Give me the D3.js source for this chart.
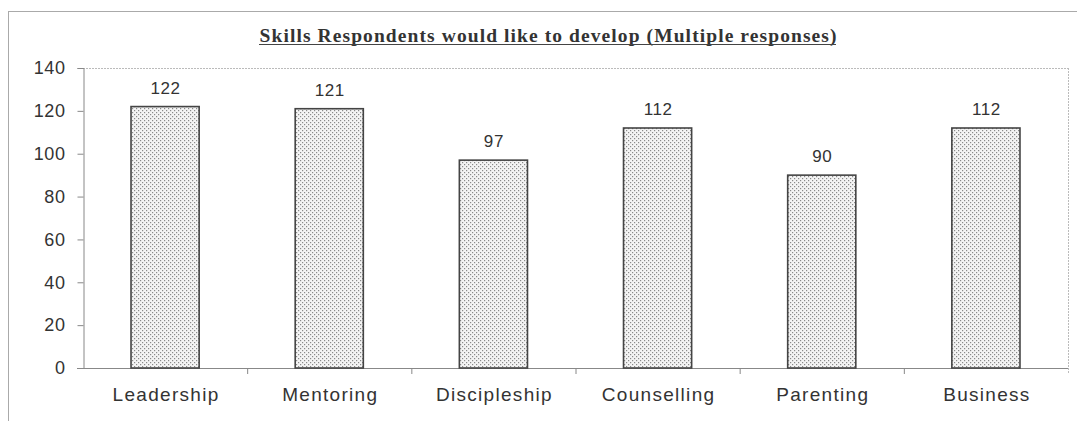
<!DOCTYPE html>
<html>
<head>
<meta charset="utf-8">
<script src="https://cdn.jsdelivr.net/npm/d3@7"></script>
<style>
  html, body { margin: 0; padding: 0; background: #fff; }
  svg { display: block; }
</style>
</head>
<body>
<svg id="chart" width="1077" height="421"></svg>
<script>
// Skills respondents would like to develop (multiple responses)
const categories = ["Leadership", "Mentoring", "Discipleship", "Counselling", "Parenting", "Business"];
const counts = [122, 121, 97, 112, 90, 112];
const yTicks = [0, 20, 40, 60, 80, 100, 120, 140];
const titleText = "Skills Respondents would like to develop (Multiple responses)";

const W = 1077, H = 421;
const plot = { left: 83, right: 1068, top: 68, bottom: 368 };
const sans = "'Liberation Sans', Arial, sans-serif";

const svg = d3.select("#chart");

// Dotted fill for the bars
const defs = svg.append("defs");
const pat = defs.append("pattern")
  .attr("id", "dots")
  .attr("patternUnits", "userSpaceOnUse")
  .attr("width", 4).attr("height", 4);
pat.append("rect").attr("width", 4).attr("height", 4).attr("fill", "#f4f4f4");
pat.append("rect").attr("x", 0).attr("y", 0).attr("width", 1.2).attr("height", 1.2).attr("fill", "#8a8a8a");
pat.append("rect").attr("x", 2).attr("y", 2).attr("width", 1.2).attr("height", 1.2).attr("fill", "#8a8a8a");

// Outer chart frame (extends past the bottom/right of the view)
svg.append("rect")
  .attr("x", 8.5).attr("y", 11.5)
  .attr("width", W + 10).attr("height", H + 10)
  .attr("fill", "none").attr("stroke", "#aaa").attr("stroke-width", 1);

// Title, underlined
svg.append("text")
  .attr("x", 548).attr("y", 42)
  .attr("text-anchor", "middle")
  .attr("font-family", "'Liberation Serif', 'Times New Roman', serif")
  .attr("font-weight", "bold")
  .attr("font-size", 19.5)
  .attr("fill", "#333")
  .attr("textLength", 577)
  .attr("lengthAdjust", "spacing")
  .text(titleText);
svg.append("line")
  .attr("x1", 259).attr("x2", 836)
  .attr("y1", 44.5).attr("y2", 44.5)
  .attr("stroke", "#444").attr("stroke-width", 1.2);

const x = d3.scaleBand()
  .domain(categories)
  .range([plot.left, plot.right])
  .paddingInner(0.585)
  .paddingOuter(0.2925);

const y = d3.scaleLinear()
  .domain([0, 140])
  .range([plot.bottom, plot.top]);

// Plot area frame (top and right, light dotted)
svg.append("line")
  .attr("x1", plot.left).attr("x2", plot.right)
  .attr("y1", plot.top + 0.5).attr("y2", plot.top + 0.5)
  .attr("stroke", "#bbb").attr("stroke-dasharray", "2,1");
svg.append("line")
  .attr("x1", plot.right + 0.5).attr("x2", plot.right + 0.5)
  .attr("y1", plot.top).attr("y2", plot.bottom + 5)
  .attr("stroke", "#bbb").attr("stroke-dasharray", "2,1");

// Y axis
const yAxis = svg.append("g")
  .attr("transform", `translate(${plot.left + 0.5},0)`)
  .call(d3.axisLeft(y).tickValues(yTicks).tickSize(6).tickPadding(12));
yAxis.select(".domain").attr("stroke", "#888");
yAxis.selectAll(".tick line").attr("stroke", "#888");
yAxis.selectAll("text")
  .attr("font-family", sans)
  .attr("font-size", 18)
  .attr("letter-spacing", 0.6)
  .attr("fill", "#333");

// X axis: baseline with ticks at category boundaries
const xAxisG = svg.append("g");
xAxisG.append("line")
  .attr("x1", plot.left - 6).attr("x2", plot.right)
  .attr("y1", plot.bottom + 0.5).attr("y2", plot.bottom + 0.5)
  .attr("stroke", "#888");
const step = x.step();
const bounds = d3.range(categories.length + 1).map(i => plot.left + i * step);
xAxisG.selectAll("line.bt").data(bounds.slice(1, -1)).join("line")
  .attr("class", "bt")
  .attr("x1", d => d + 0.5).attr("x2", d => d + 0.5)
  .attr("y1", plot.bottom).attr("y2", plot.bottom + 6)
  .attr("stroke", "#888");
xAxisG.selectAll("text").data(categories).join("text")
  .attr("x", d => x(d) + x.bandwidth() / 2 + 1)
  .attr("y", plot.bottom + 33)
  .attr("text-anchor", "middle")
  .attr("font-family", sans)
  .attr("font-size", 19)
  .attr("letter-spacing", 1.3)
  .attr("fill", "#333")
  .text(d => d);

// Bars
svg.append("g").selectAll("rect").data(categories).join("rect")
  .attr("x", d => x(d))
  .attr("y", (d, i) => y(counts[i]))
  .attr("width", x.bandwidth())
  .attr("height", (d, i) => y(0) - y(counts[i]))
  .attr("fill", "url(#dots)")
  .attr("stroke", "#444")
  .attr("stroke-width", 1.6);

// Value labels
svg.append("g").selectAll("text").data(categories).join("text")
  .attr("x", d => x(d) + x.bandwidth() / 2 + 0.5)
  .attr("y", (d, i) => y(counts[i]) - 13)
  .attr("text-anchor", "middle")
  .attr("font-family", sans)
  .attr("font-size", 17)
  .attr("letter-spacing", 0.6)
  .attr("fill", "#333")
  .text((d, i) => counts[i]);
</script>
</body>
</html>
